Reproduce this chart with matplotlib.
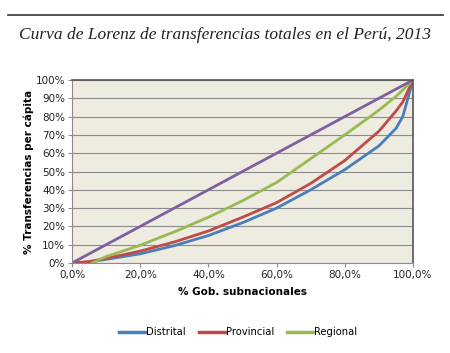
import matplotlib.pyplot as plt
from matplotlib.ticker import FuncFormatter, MultipleLocator

# Lorenz curve values, in percent
x_pts = [0, 5, 10, 20, 30, 40, 50, 60, 70, 80, 90, 95, 97, 100]
distrital = [0, 0.5, 2, 5, 9.5, 15, 22, 30, 40, 51, 64, 73.5, 80, 100]
provincial = [0, 0.8, 2.5, 6.5, 11.5, 17.5, 25, 33, 43.5, 56, 72, 83, 88, 100]
regional_x = [5.9, 10, 20, 30, 40, 50, 60, 70, 80, 90, 95, 100]
regional = [0, 3.5, 9.7, 17, 25, 34, 44, 57, 70, 83.5, 91, 100]
equality = [0, 100]

fig = plt.figure(figsize=(4.5, 3.53), dpi=100)
fig.add_artist(plt.Line2D([8 / 450, 443 / 450], [1 - 15 / 353] * 2, color='#333333', lw=1.2))
fig.text(0.5, 1 - 35 / 353, 'Curva de Lorenz de transferencias totales en el Perú, 2013',
         ha='center', va='center', fontsize=12.5, style='italic', family='Liberation Serif', color='#222222')

ax = fig.add_axes([72 / 450, 1 - 263 / 353, 341 / 450, 183 / 353])
ax.set_facecolor('#EEEBE0')

ax.plot(x_pts, distrital, color='#4A7EBB', lw=2, label='Distrital')
ax.plot(x_pts, provincial, color='#BE4B48', lw=2, label='Provincial')
ax.plot(regional_x, regional, color='#98B954', lw=2, label='Regional')
ax.plot([0, 100], equality, color='#7D60A0', lw=2)

ax.set_xlim(0, 100)
ax.set_ylim(0, 100)
ax.xaxis.set_major_locator(MultipleLocator(20))
ax.yaxis.set_major_locator(MultipleLocator(10))
ax.xaxis.set_major_formatter(FuncFormatter(lambda v, p: f'{v:.1f}%'.replace('.', ',')))
ax.yaxis.set_major_formatter(FuncFormatter(lambda v, p: f'{v:.0f}%'))
ax.grid(axis='y', color='#8C8C8C', lw=0.8)
ax.set_axisbelow(True)
ax.tick_params(labelsize=7.5, length=3, color='#8C8C8C', labelcolor='#222222', pad=2)
for s in ['top', 'right']:
    ax.spines[s].set_color('#555555')
    ax.spines[s].set_linewidth(1.2)
for s in ['left', 'bottom']:
    ax.spines[s].set_color('#8C8C8C')

ax.set_xlabel('% Gob. subnacionales', fontsize=7.5, fontweight='bold', labelpad=5)
ax.set_ylabel('% Transferencias per cápita', fontsize=7.5, fontweight='bold', labelpad=1)

leg = fig.legend(loc='center', bbox_to_anchor=(238 / 450, 1 - 332 / 353), ncol=3, frameon=False,
                 fontsize=7.2, handlelength=2.6, handletextpad=0.1, columnspacing=1.3)
for h in leg.get_lines():
    h.set_linewidth(2.5)

plt.savefig('out.png', dpi=100)
